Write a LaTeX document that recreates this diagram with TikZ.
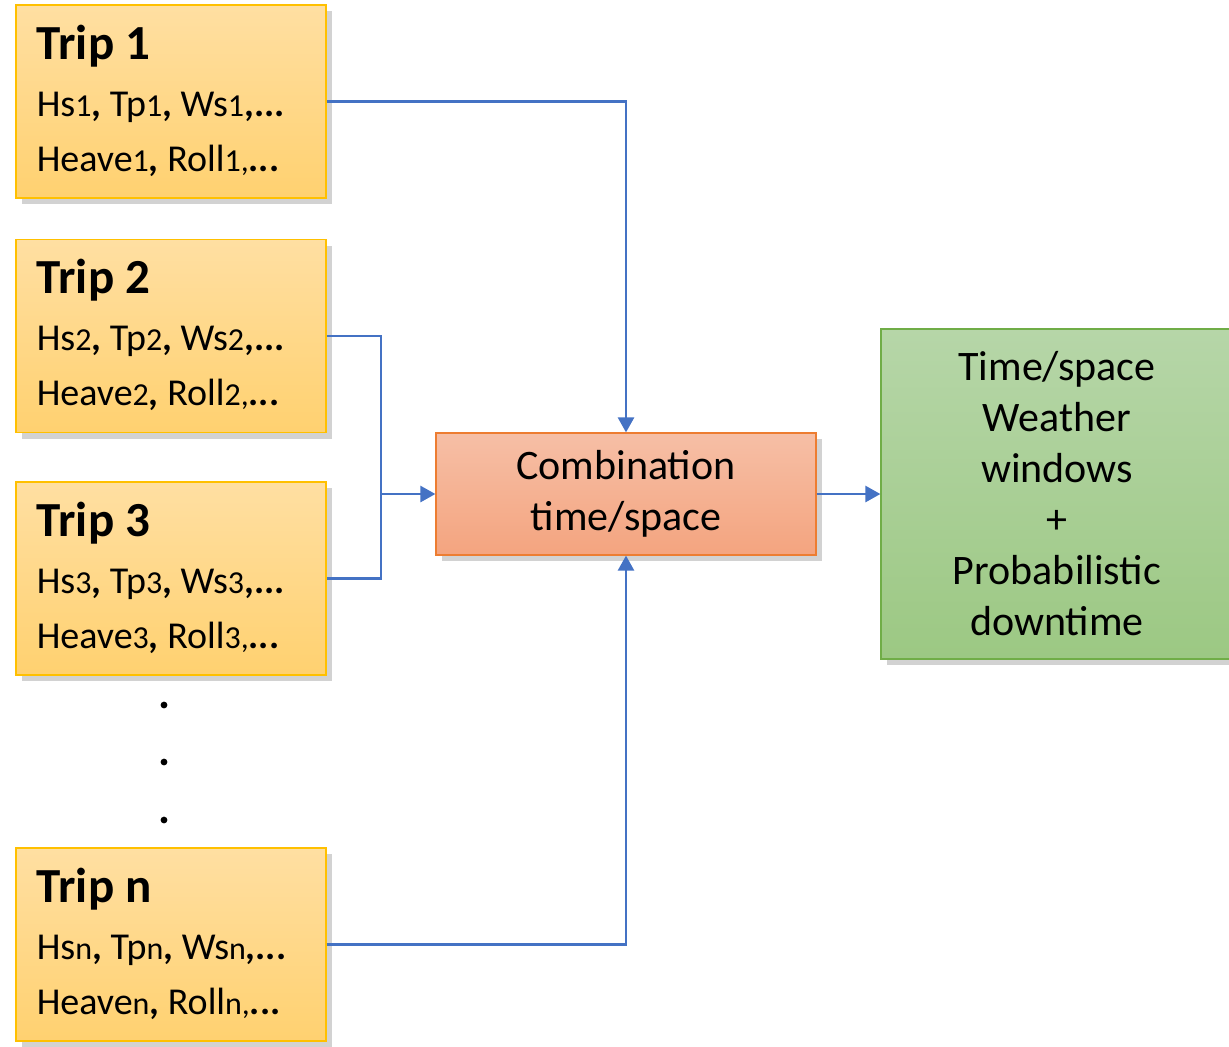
\documentclass[tikz,border=0pt]{standalone}
\usepackage{fontspec}
\setmainfont{Carlito}
\usetikzlibrary{arrows.meta,shadows}

\definecolor{tripedge}{HTML}{FFC000}
\definecolor{triptop}{HTML}{FFDFA2}
\definecolor{tripbottom}{HTML}{FFD170}
\definecolor{combedge}{HTML}{ED7D31}
\definecolor{combtop}{HTML}{F6BFA6}
\definecolor{combbottom}{HTML}{F4A47F}
\definecolor{resedge}{HTML}{70AD47}
\definecolor{restop}{HTML}{B6D6A8}
\definecolor{resbottom}{HTML}{9CC883}
\definecolor{linkblue}{HTML}{4472C4}

\newcommand\tripidx[1]{{\fontsize{16}{16}\selectfont #1}}

\tikzset{
	box/.style={inner sep=0pt, line width=0.6pt,
		drop shadow={shadow xshift=3pt, shadow yshift=-3pt, opacity=0.25, fill=black!70}},
	trip/.style={box, draw=tripedge, top color=triptop, bottom color=tripbottom,
		minimum width=155pt, minimum height=96.5pt},
	title/.style={anchor=base west, inner sep=0pt, font=\fontsize{24.5}{28}\selectfont\bfseries},
	param/.style={anchor=base west, inner sep=0pt, font=\fontsize{19}{22}\selectfont},
	wire/.style={draw=linkblue, line width=1.3pt},
	link/.style={wire, -{Triangle[length=7.5pt, width=8pt]}},
}

\begin{document}
\begin{tikzpicture}[x=0.5pt, y=-0.5pt]
	\useasboundingbox (0, 0) rectangle (1229, 1046);

	% trips
	\node[trip] (trip1) at (171, 101.5) {};
	\node[title] (trip1t) at ([shift={(21, 55)}]trip1.north west) {Trip 1};
	\node[param] (trip1a) at ([shift={(21, 112)}]trip1.north west) {Hs\tripidx{1}\textbf{,} Tp\tripidx{1}\textbf{,} Ws\tripidx{1}\textbf{,...}};
	\node[param] (trip1b) at ([shift={(21, 167)}]trip1.north west) {Heave\tripidx{1}\textbf{,} Roll\tripidx{1,}\textbf{...}};

	\node[trip] (trip2) at (171, 336) {};
	\node[title] (trip2t) at ([shift={(21, 55)}]trip2.north west) {Trip 2};
	\node[param] (trip2a) at ([shift={(21, 112)}]trip2.north west) {Hs\tripidx{2}\textbf{,} Tp\tripidx{2}\textbf{,} Ws\tripidx{2}\textbf{,...}};
	\node[param] (trip2b) at ([shift={(21, 167)}]trip2.north west) {Heave\tripidx{2}\textbf{,} Roll\tripidx{2,}\textbf{...}};

	\node[trip] (trip3) at (171, 578.5) {};
	\node[title] (trip3t) at ([shift={(21, 55)}]trip3.north west) {Trip 3};
	\node[param] (trip3a) at ([shift={(21, 112)}]trip3.north west) {Hs\tripidx{3}\textbf{,} Tp\tripidx{3}\textbf{,} Ws\tripidx{3}\textbf{,...}};
	\node[param] (trip3b) at ([shift={(21, 167)}]trip3.north west) {Heave\tripidx{3}\textbf{,} Roll\tripidx{3,}\textbf{...}};

	\node[trip] (tripn) at (171, 944.5) {};
	\node[title] (tripnt) at ([shift={(21, 55)}]tripn.north west) {Trip n};
	\node[param] (tripna) at ([shift={(21, 112)}]tripn.north west) {Hs\tripidx{n}\textbf{,} Tp\tripidx{n}\textbf{,} Ws\tripidx{n}\textbf{,...}};
	\node[param] (tripnb) at ([shift={(21, 167)}]tripn.north west) {Heave\tripidx{n}\textbf{,} Roll\tripidx{n,}\textbf{...}};

	% dots between trip 3 and trip n
	\node[circle, fill, inner sep=1.2pt] (dot1) at (164, 705) {};
	\node[circle, fill, inner sep=1.2pt] (dot2) at (164, 762) {};
	\node[circle, fill, inner sep=1.2pt] (dot3) at (164, 820) {};

	% combination and result
	\node[box, draw=combedge, top color=combtop, bottom color=combbottom,
		minimum width=190pt, minimum height=61pt, align=center,
		font=\fontsize{21}{25.5}\selectfont] (comb) at (626, 494) {Combination\\time/space};
	\node[box, draw=resedge, top color=restop, bottom color=resbottom,
		minimum width=176pt, minimum height=165pt, align=center,
		font=\fontsize{21}{25.5}\selectfont] (result) at (1057, 494)
		{Time/space\\Weather\\windows\\+\\Probabilistic\\downtime};

	% connectors
	\coordinate (join) at (381, 494);
	\draw[link] (trip1.east) -| (comb.north);
	\draw[wire] (trip2.east) -| (join) |- (trip3.east);
	\draw[link] (join) -- (comb.west);
	\draw[link] (tripn.east) -| (comb.south);
	\draw[link] (comb.east) -- (result.west);
\end{tikzpicture}
\end{document}
